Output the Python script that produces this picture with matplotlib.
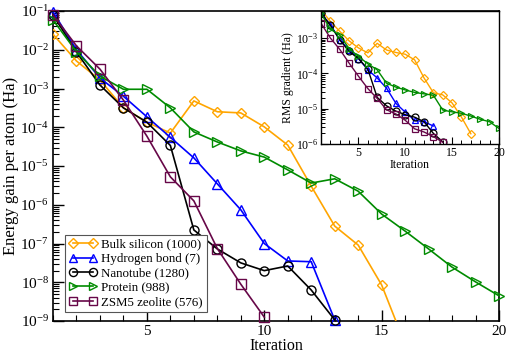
import numpy as np
import matplotlib
matplotlib.use("Agg")
import matplotlib.pyplot as plt
from matplotlib.ticker import MultipleLocator, LogLocator, NullFormatter

plt.rcParams['font.family'] = ['Liberation Serif', 'DejaVu Serif']
plt.rcParams['mathtext.fontset'] = 'stix'

# values, as log10 exponents
iters = np.arange(1, 21)

labels = ["Bulk silicon (1000)", "Hydrogen bond (7)", "Nanotube (1280)",
          "Protein (988)", "ZSM5 zeolite (576)"]
colors = ["#FFA500", "#0000FF", "#000000", "#008B00", "#670748"]
markers = ["D", "^", "o", ">", "s"]

# energy gain per atom (Ha), main plot
gain_bulk = [-1.6, -2.29, -2.78, -3.5, -3.87, -4.15, -3.32, -3.6, -3.63, -3.99,
             -4.46, -5.52, -6.55, -7.04, -8.07, -9.6]
gain_hbond = [-1.02, -2.0, -2.73, -3.2, -3.73, -4.26, -4.79, -5.46, -6.13, -7.0,
              -7.45, -7.47, -8.97]
gain_tube = [-1.1, -2.06, -2.91, -3.5, -3.87, -4.47, -6.65, -7.14, -7.5, -7.7,
             -7.58, -8.2, -8.97]
gain_protein = [-1.23, -2.05, -2.68, -3.02, -3.02, -3.5, -4.12, -4.38, -4.61, -4.77,
                -5.1, -5.44, -5.33, -5.65, -6.24, -6.68, -7.14, -7.61, -7.99, -8.35]
gain_zsm5 = [-1.1, -1.9, -2.5, -3.3, -4.23, -5.28, -5.9, -7.13, -8.05, -8.9]

# RMS gradient (Ha), inset
rms_bulk = [-2.2, -2.53, -2.81, -3.08, -3.28, -3.42, -3.15, -3.34, -3.41, -3.46,
            -3.62, -4.13, -4.55, -4.61, -4.84, -5.24, -5.71]
rms_hbond = [-2.3, -2.62, -3.05, -3.33, -3.58, -3.9, -4.13, -4.42, -4.85, -5.1,
             -5.33, -5.37, -5.49]
rms_tube = [-2.3, -2.64, -3.05, -3.38, -3.58, -3.88, -4.68, -4.92, -5.07, -5.17,
            -5.24, -5.37, -5.7, -5.94]
rms_protein = [-2.3, -2.75, -2.92, -3.3, -3.52, -3.73, -3.9, -4.28, -4.39, -4.47,
               -4.54, -4.58, -4.62, -5.04, -5.09, -5.13, -5.21, -5.3, -5.37, -5.56]
rms_zsm5 = [-2.58, -3.0, -3.32, -3.71, -4.08, -4.43, -4.71, -5.03, -5.15, -5.33,
            -5.57, -5.66, -5.79, -5.95]

gain_sets = [gain_bulk, gain_hbond, gain_tube, gain_protein, gain_zsm5]
rms_sets = [rms_bulk, rms_hbond, rms_tube, rms_protein, rms_zsm5]

fig = plt.figure(figsize=(5.09, 3.57), dpi=100)
ax = fig.add_axes([0.1041, 0.1008, 0.8763, 0.8684])

for vals, lab, c, m in zip(gain_sets, labels, colors, markers):
    ms = 5.5 if m == "D" else 6.5
    # bulk silicon runs off the bottom, keep it clipped
    ax.plot(iters[:len(vals)], 10.0 ** np.array(vals), color=c, lw=1.2,
            marker=m, ms=ms, mfc="none", mec=c, mew=1.0, label=lab,
            clip_on=(m == "D"), zorder=3)

ax.set_yscale("log")
ax.set_xlim(1, 20)
ax.set_ylim(1e-9, 1e-1)
ax.xaxis.set_major_locator(MultipleLocator(5))
ax.xaxis.set_minor_locator(MultipleLocator(1))
ax.yaxis.set_major_locator(LogLocator(base=10, numticks=20))
ax.yaxis.set_minor_locator(LogLocator(base=10, subs=np.arange(2, 10), numticks=20))
ax.yaxis.set_minor_formatter(NullFormatter())
ax.tick_params(which="both", direction="in", top=False, right=False, labelsize=11)
ax.tick_params(which="major", length=8, width=1, pad=3)
ax.tick_params(which="minor", length=4, width=0.8)
ax.set_xlabel("Iteration", fontsize=11.5, labelpad=0)
ax.set_ylabel("Energy gain per atom (Ha)", fontsize=12, labelpad=1)
for s in ax.spines.values():
    s.set_linewidth(1.2)

leg = ax.legend(loc="lower left", bbox_to_anchor=(0.027, 0.029), borderaxespad=0,
                fontsize=9.3, numpoints=2, handlelength=2.2, labelspacing=0.18,
                borderpad=0.3, handletextpad=0.3, fancybox=False,
                edgecolor="#555555", framealpha=1, markerscale=0.9)
leg.get_frame().set_linewidth(0.8)
leg.set_zorder(5)

# inset
ins = fig.add_axes([0.6306, 0.5966, 0.3497, 0.3725])
for vals, c, m in zip(rms_sets, colors, markers):
    ms = 4.2 if m == "D" else 5
    ins.plot(iters[:len(vals)], 10.0 ** np.array(vals), color=c, lw=1.0,
             marker=m, ms=ms, mfc="none", mec=c, mew=0.9)
ins.set_yscale("log")
ins.set_xlim(1, 20)
ins.set_ylim(1e-6, 5.8e-3)
ins.xaxis.set_major_locator(MultipleLocator(5))
ins.xaxis.set_minor_locator(MultipleLocator(1))
ins.yaxis.set_major_locator(LogLocator(base=10, numticks=20))
ins.yaxis.set_minor_locator(LogLocator(base=10, subs=np.arange(2, 10), numticks=20))
ins.yaxis.set_minor_formatter(NullFormatter())
ins.tick_params(which="both", direction="in", top=False, right=False, labelsize=8.5,
                pad=2)
ins.tick_params(which="major", length=5, width=0.8)
ins.tick_params(which="minor", length=3, width=0.7)
ins.set_xlabel("Iteration", fontsize=8.5, labelpad=0)
ins.set_ylabel("RMS gradient (Ha)", fontsize=8.5, labelpad=1)
for s in ins.spines.values():
    s.set_linewidth(1.0)

fig.savefig("out.png", dpi=100)
